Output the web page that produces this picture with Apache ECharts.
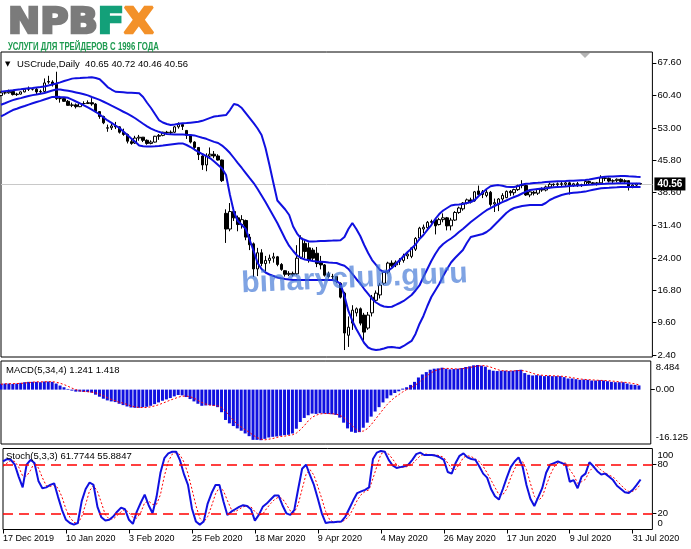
<!DOCTYPE html>
<html>
<head>
<meta charset="UTF-8">
<title>USCrude Daily</title>
<script src="https://cdn.jsdelivr.net/npm/echarts@6/dist/echarts.min.js"></script>
<style>
    html, body { margin: 0; padding: 0; background: #fff; }
    #chart { width: 691px; height: 549px; }
</style>
</head>
<body>
<div id="chart"></div>
<script type="text/javascript">
    // bars: 17 Dec 2019 .. 4 Aug 2020, daily
    var firstDay = '2019-12-17';
    var holidays = ['2019-12-25', '2020-01-01', '2020-04-10'];
    var monthNames = ['Jan','Feb','Mar','Apr','May','Jun','Jul','Aug','Sep','Oct','Nov','Dec'];
    var labelStep = 16;        // a date label every 16 bars
    var lastLabelIndex = 160;  // 31 Jul 2020
    var emptySlots = 3;        // free space right of the last bar

    var opens = [60.3,60.9,60.9,61.2,60.5,60.6,61.1,61.7,61.7,61.7,
        61.1,61.2,63.4,63.3,62.8,59.6,59.6,59.0,58.1,58.2,
        57.8,58.5,58.5,58.7,58.4,56.7,55.6,53.0,53.1,53.5,
        53.3,52.1,51.6,50.0,49.7,50.8,51.0,50.3,49.6,49.9,
        51.2,51.4,52.1,52.0,52.1,53.3,53.8,52.5,51.4,49.9,
        48.7,46.8,44.8,46.8,47.2,46.8,45.9,34.0,30.5,34.4,
        33.0,31.5,32.4,28.7,27.2,21.6,25.2,22.8,23.5,24.0,
        24.3,22.6,21.2,20.4,20.6,20.5,24.2,27.3,26.3,25.8,
        25.1,23.0,22.5,20.5,19.9,19.9,18.4,16.2,6.8,9.5,
        11.8,12.7,11.3,8.4,11.8,14.6,15.8,18.4,20.9,22.9,
        22.5,23.3,23.5,24.5,24.4,26.0,28.5,30.5,30.8,32.0,
        32.6,31.5,32.6,33.0,31.2,32.5,34.2,35.0,36.3,37.0,
        36.8,39.0,38.2,38.0,38.7,36.1,36.0,37.2,37.5,38.9,
        38.6,39.3,40.2,40.2,38.1,38.7,38.5,39.4,39.2,39.9,
        40.5,40.4,40.6,40.5,40.8,40.3,40.6,40.2,40.4,41.1,
        40.8,40.6,40.8,41.9,41.8,41.2,41.3,41.6,41.1,41.3,
        39.9,40.3,40.65];
    var highs = [61.2,61.2,61.6,61.4,60.9,61.2,61.9,62.3,62.0,62.0,
        61.6,64.1,64.7,63.7,65.6,60.2,59.9,59.3,58.7,58.5,
        58.7,59.0,59.2,59.7,58.6,56.8,55.8,53.8,54.0,54.4,
        53.4,52.9,51.8,50.8,51.3,51.5,51.0,50.5,50.3,51.3,
        51.7,52.2,52.4,52.5,53.5,54.3,53.9,52.6,51.7,50.1,
        48.8,47.0,47.4,48.7,47.9,47.2,46.0,34.9,36.3,35.3,
        33.5,33.6,32.6,29.4,27.5,26.3,26.0,24.5,24.8,25.2,
        24.5,22.9,21.3,21.1,21.0,26.9,29.1,28.0,27.5,26.3,
        26.5,24.5,22.7,21.0,20.5,20.0,18.6,16.5,11.0,13.5,
        13.0,13.0,11.8,12.0,15.8,16.8,18.5,21.2,23.2,23.5,
        23.5,24.0,25.0,25.5,26.5,28.7,31.0,31.5,32.3,32.6,
        33.0,33.0,34.0,33.2,33.0,34.5,35.5,36.5,37.3,37.5,
        39.0,40.2,39.2,39.3,39.0,37.3,37.4,38.5,39.1,39.2,
        39.5,40.4,41.4,40.4,39.2,39.0,39.6,39.8,40.2,40.9,
        40.7,40.9,41.0,41.0,41.1,40.8,41.0,40.6,41.3,41.3,
        41.0,41.0,42.5,42.1,42.0,41.6,41.8,41.8,41.6,41.4,
        40.6,40.8,40.72];
    var lows = [60.1,60.5,60.7,60.3,60.2,60.5,61.0,61.3,61.4,60.6,
        60.6,61.0,62.9,62.3,59.3,58.7,58.9,58.0,57.7,57.4,
        57.7,58.2,58.4,58.0,56.5,55.1,53.9,52.2,52.6,52.8,
        51.8,51.3,49.6,49.3,49.5,50.2,49.9,49.3,49.4,49.8,
        50.4,51.2,51.7,51.5,51.9,52.9,52.6,50.6,49.6,48.3,
        45.9,43.7,43.4,46.2,46.3,45.8,41.0,27.4,30.0,32.3,
        30.0,30.6,28.0,25.8,19.8,20.0,22.2,21.0,22.8,23.0,
        22.2,21.2,19.9,20.0,19.9,20.2,23.8,24.0,23.0,23.5,
        22.0,21.5,19.9,19.5,19.2,18.4,15.0,3.5,4.2,8.0,
        11.0,9.0,5.7,8.0,11.0,14.0,15.0,18.0,20.5,22.0,
        22.0,22.5,23.0,23.8,24.0,25.6,28.0,29.6,30.5,31.4,
        29.3,31.3,32.0,30.2,30.2,32.3,33.9,34.6,36.0,36.2,
        36.6,38.0,37.4,37.6,35.5,34.3,34.5,36.8,37.4,37.9,
        38.0,39.0,39.6,37.9,37.6,38.0,38.1,38.8,38.9,39.6,
        40.0,39.9,40.0,40.1,38.2,39.9,39.9,39.9,40.2,40.4,
        40.3,40.2,40.6,41.2,40.9,40.6,40.9,40.8,40.8,39.1,
        39.6,39.9,40.46];
    var closes = [60.9,60.9,61.2,60.5,60.6,61.1,61.7,61.7,61.7,61.1,
        61.2,63.1,63.3,62.7,59.6,59.6,59.0,58.1,58.2,57.8,
        58.5,58.5,58.7,58.4,56.7,55.6,54.2,53.1,53.5,53.3,
        52.1,51.6,50.1,49.6,50.8,51.0,50.3,49.6,49.9,51.2,
        51.4,52.1,52.0,52.1,53.3,53.8,53.4,51.4,49.9,48.7,
        47.1,44.8,46.8,47.2,46.8,45.9,41.3,30.5,34.4,33.0,
        31.5,32.6,28.7,27.0,21.6,25.2,22.8,23.5,24.0,24.3,
        22.6,21.5,20.4,20.6,20.3,24.0,28.5,25.5,23.6,24.0,
        22.8,22.5,20.2,19.9,19.9,18.8,15.3,7.3,8.6,12.4,
        12.7,9.5,7.5,11.3,15.3,16.2,18.0,20.9,22.9,22.3,
        23.1,23.5,24.5,24.9,26.3,28.4,30.7,30.9,32.0,32.2,
        31.2,32.6,33.0,31.2,32.5,34.2,35.2,36.3,37.0,36.6,
        38.8,38.2,38.8,38.7,36.0,36.4,37.2,38.0,38.9,38.6,
        39.3,40.2,40.3,38.1,38.8,38.5,39.4,39.2,39.9,40.5,
        40.4,40.6,40.5,40.8,40.3,40.6,40.2,40.4,41.1,40.8,
        40.6,40.8,41.9,41.8,41.2,41.3,41.6,41.1,41.3,39.9,
        40.3,40.6,40.56];

    // Bollinger Bands (20, 2) as drawn
    var bbUpper = [61.16,61.27,61.38,61.47,61.58,61.67,61.78,61.89,61.98,62.09,
        62.18,62.32,62.52,62.74,62.97,63.23,63.52,63.79,64.06,64.17,
        64.21,64.26,64.30,64.35,64.19,63.92,63.08,62.18,61.63,61.13,
        61.07,61.00,60.93,60.89,60.84,60.78,59.95,58.68,57.50,56.16,
        54.82,54.27,53.93,53.71,53.82,53.97,54.09,54.15,54.24,54.33,
        54.42,54.64,54.98,55.31,55.60,55.71,55.83,55.94,57.05,58.39,
        58.17,57.50,56.38,55.27,54.15,52.93,51.48,48.58,44.79,40.77,
        36.86,35.86,34.86,33.63,31.07,29.50,28.39,28.06,27.72,27.72,
        27.76,27.81,27.83,27.88,27.92,27.97,28.01,28.72,30.51,31.85,
        30.51,28.95,26.94,25.16,23.59,22.48,21.36,20.92,21.14,21.81,
        22.70,23.59,24.49,25.38,26.16,27.05,28.28,29.17,30.29,31.40,
        32.74,33.85,34.63,35.19,35.75,35.91,35.99,36.08,36.31,36.53,
        36.98,37.87,38.65,39.43,40.06,40.21,40.30,40.17,39.94,39.88,
        39.88,40.10,40.46,40.61,40.66,40.75,40.81,40.88,40.97,41.04,
        41.10,41.15,41.19,41.22,41.26,41.30,41.35,41.39,41.42,41.53,
        41.71,41.88,42.04,42.15,42.20,42.24,42.29,42.33,42.31,42.26,
        42.22,42.17,42.13];
    var bbMiddle = [58.23,58.57,58.93,59.26,59.53,59.71,59.95,60.18,60.38,60.53,
        60.69,60.87,61.14,61.40,61.63,61.63,61.49,61.34,61.18,60.98,
        60.78,60.58,60.33,59.97,59.64,59.31,58.90,58.48,58.03,57.59,
        57.14,56.67,56.23,55.76,55.22,54.60,53.99,53.42,52.90,52.52,
        52.19,51.90,51.70,51.66,51.61,51.59,51.57,51.52,51.48,51.39,
        51.12,50.85,50.63,50.29,49.94,49.69,49.13,48.35,47.46,46.35,
        45.23,44.12,43.00,41.88,40.77,39.43,37.98,36.53,34.97,33.41,
        31.85,30.06,28.28,26.72,25.60,24.60,24.04,23.71,23.53,23.37,
        23.26,23.21,23.15,23.04,22.97,22.92,22.59,22.30,21.59,20.47,
        19.36,18.35,17.12,16.01,14.89,14.11,13.56,13.22,13.11,13.16,
        13.56,14.00,14.45,15.12,15.79,16.79,17.91,19.80,21.59,23.37,
        24.93,26.27,27.16,27.83,28.39,29.06,29.84,30.51,31.29,32.07,
        32.74,33.41,34.08,34.70,35.19,35.64,36.09,36.49,36.87,37.27,
        37.65,37.98,38.43,38.87,39.21,39.32,39.43,39.54,39.61,39.70,
        39.81,39.88,39.94,40.01,40.08,40.15,40.21,40.28,40.32,40.37,
        40.43,40.50,40.55,40.59,40.64,40.68,40.70,40.73,40.73,40.70,
        40.68,40.66,40.64];
    var bbLower = [55.65,56.10,56.56,57.05,57.34,57.66,57.95,58.26,58.55,58.84,
        59.10,59.40,59.69,59.98,60.00,59.95,59.91,59.77,59.37,58.95,
        58.55,58.10,57.63,57.16,56.61,56.05,55.40,54.73,54.20,53.60,
        53.04,52.26,51.48,50.70,49.96,49.13,48.98,48.93,48.91,48.96,
        49.02,49.13,49.25,49.36,49.47,49.56,49.60,49.25,48.80,48.24,
        47.73,47.24,46.79,46.28,45.57,44.79,44.00,42.55,38.09,34.30,
        32.29,31.40,30.51,28.06,25.60,22.93,21.59,20.80,20.36,20.03,
        19.69,19.51,19.36,19.24,19.13,19.13,19.13,19.13,19.13,19.13,
        19.13,19.13,19.13,19.13,19.13,18.91,18.24,15.56,12.22,9.99,
        8.20,6.64,5.08,4.07,3.67,3.52,3.63,3.85,4.12,4.19,
        4.07,3.96,4.41,4.97,5.53,7.09,9.32,11.10,13.33,15.34,
        16.79,18.24,20.03,21.59,23.04,24.04,24.93,25.82,27.39,28.72,
        28.95,29.17,29.39,29.84,30.51,31.40,32.29,33.19,34.08,34.75,
        35.19,35.42,35.64,35.75,35.86,35.86,35.86,35.86,36.31,36.98,
        37.42,37.76,38.09,38.32,38.49,38.58,38.67,38.74,38.85,39.07,
        39.27,39.45,39.59,39.66,39.72,39.79,39.83,39.88,39.88,39.88,
        39.88,39.88,39.88];

    // MACD(5,34,4)
    var macdMain = [1.7,1.8,1.8,1.7,1.8,2.0,2.2,2.3,2.3,2.3,
        2.2,2.4,2.4,2.3,1.8,1.2,0.7,0.2,-0.3,-0.6,
        -0.6,-0.7,-0.7,-0.9,-1.5,-2.1,-2.7,-3.2,-3.5,-3.7,
        -4.2,-4.6,-5.0,-5.3,-5.4,-5.4,-5.2,-5.1,-4.8,-4.3,
        -3.8,-3.3,-2.9,-2.5,-2.0,-1.6,-1.7,-2.2,-2.8,-3.5,
        -4.2,-4.8,-4.7,-4.6,-4.8,-5.2,-6.7,-9.0,-10.0,-10.8,
        -11.5,-12.2,-13.0,-13.8,-14.9,-14.9,-15.0,-14.6,-14.2,-14.0,
        -13.9,-13.7,-13.5,-13.4,-13.0,-11.6,-9.6,-8.4,-7.6,-7.1,
        -7.2,-7.0,-7.1,-7.2,-7.3,-7.5,-8.3,-9.8,-11.5,-12.5,
        -12.8,-12.6,-11.3,-9.8,-8.0,-6.5,-5.2,-3.8,-2.6,-1.7,
        -1.0,-0.5,0.3,0.7,1.4,2.3,3.6,4.5,5.2,5.9,
        6.2,6.3,6.5,6.2,6.0,6.1,6.2,6.4,6.7,6.9,
        7.2,7.3,7.1,6.8,5.9,5.6,5.5,5.6,5.6,5.5,
        5.6,5.8,5.9,4.9,4.4,4.2,4.3,4.2,4.0,4.1,
        4.0,4.0,4.0,3.7,3.3,3.3,3.1,2.9,3.0,2.9,
        2.7,2.7,2.8,2.7,2.5,2.3,2.2,2.2,2.2,1.8,
        1.5,1.4,1.241];
    var macdSignal = [1.6,1.7,1.75,1.75,1.8,1.85,1.95,2.1,2.2,2.3,
        2.3,2.3,2.35,2.35,2.2,1.9,1.5,1.0,0.45,0.0,
        -0.35,-0.55,-0.65,-0.75,-0.95,-1.3,-1.8,-2.4,-2.9,-3.3,
        -3.75,-4.0,-4.4,-4.8,-5.1,-5.3,-5.3,-5.3,-5.1,-4.85,
        -4.5,-4.05,-3.6,-3.1,-2.7,-2.25,-1.95,-1.9,-2.1,-2.5,
        -3.2,-3.8,-4.3,-4.6,-4.7,-4.8,-5.3,-6.4,-7.7,-9.1,
        -10.3,-11.1,-11.9,-12.6,-13.5,-14.2,-14.7,-14.9,-14.7,-14.5,
        -14.2,-13.9,-13.8,-13.6,-13.4,-12.9,-11.9,-10.7,-9.3,-8.2,
        -7.6,-7.2,-7.1,-7.1,-7.15,-7.25,-7.6,-8.2,-9.3,-10.5,
        -11.7,-12.4,-12.3,-11.6,-10.4,-8.9,-7.4,-5.9,-4.5,-3.3,
        -2.3,-1.5,-0.7,0.0,0.5,1.2,2.0,3.0,3.95,4.8,
        5.5,5.95,6.2,6.3,6.25,6.2,6.1,6.2,6.35,6.55,
        6.8,7.0,7.1,7.1,6.8,6.4,5.95,5.65,5.55,5.55,
        5.55,5.6,5.7,5.55,5.25,4.85,4.45,4.3,4.2,4.15,
        4.1,4.05,4.0,3.9,3.75,3.55,3.35,3.15,3.05,2.95,
        2.9,2.8,2.75,2.7,2.65,2.55,2.45,2.3,2.2,2.1,
        1.9,1.7,1.418];

    // Stochastic (5,3,3)
    var stochK = [84,87,86,80,65,52,80,86,82,60,
        51,52,55,57,40,24,12,8,6,8,
        35,50,58,55,28,15,11,12,16,22,
        27,25,12,7,22,33,43,30,20,40,
        70,88,94,96,96,85,68,55,26,10,
        6,10,32,45,55,55,35,18,22,25,
        28,30,29,25,11,18,28,32,37,42,
        42,30,20,18,24,50,75,80,67,55,
        38,20,8,9,9,9.5,10,16,26,36,
        45,47,49,52,87,95,97,96,86,79,
        76,77,78,80,86,93,95,92,92,92,
        91,89,86,71,69,82,91,94,89,87,
        86,78,69,64,50,41,37,50,64,77,
        84,89,78,55,38,29,40,51,70,80,
        82,84,82,80,59,61,51,65,69,83,
        78,72,68,69,65,61,54,50,46,45,
        49,55,61.7744];
    var stochD = [78,82,85,84,77,66,66,73,83,76,
        64,54,53,55,51,40,25,15,9,7,
        16,31,48,54,47,33,18,13,13,17,
        22,25,21,15,14,21,33,35,31,31,
        43,66,84,93,95,92,83,69,50,30,
        14,9,16,29,44,52,48,36,25,22,
        25,28,29,28,22,18,19,26,32,37,
        40,38,31,23,21,31,50,68,74,67,
        53,38,22,12,9,9,9.5,12,17,26,
        36,43,47,49,63,78,93,96,93,87,
        80,77,77,78,81,86,91,93,93,92,
        92,91,89,82,75,74,81,89,91,90,
        87,84,78,70,61,52,43,43,50,64,
        75,83,84,74,57,41,36,40,54,67,
        77,82,83,82,74,67,57,59,62,72,
        77,78,73,70,67,65,60,55,50,47,
        47,50,55.8847];
    var stochLevels = [80, 20];

    // axis labels
    var priceTicks = [67.60, 60.40, 53.00, 45.80, 38.60, 31.40, 24.00, 16.80, 9.60, 2.40];
    var macdTicks = [8.484, 0, -16.125];
    var stochEdgeTicks = [100, 0];
    var lastPrice = 40.56;
    var symbolTitle = 'USCrude,Daily';
    var lastBar = [40.65, 40.72, 40.46, 40.56];

    var dates = [];
    var d = new Date(firstDay + 'T00:00:00Z');
    while (dates.length < closes.length) {
        var wd = d.getUTCDay();
        var iso = d.toISOString().slice(0, 10);
        if (wd !== 0 && wd !== 6 && holidays.indexOf(iso) < 0) {
            dates.push(d.getUTCDate() + ' ' + monthNames[d.getUTCMonth()] + ' ' + d.getUTCFullYear());
        }
        d.setUTCDate(d.getUTCDate() + 1);
    }
    var categories = dates.slice();
    for (var e = 0; e < emptySlots; e++) categories.push('');

    var candles = opens.map(function (o, i) {
        return [o, closes[i], lows[i], highs[i]];
    });

    var font = '"Liberation Sans", Arial, sans-serif';
    var blue = '#1010e0';
    var logoFont = 'bold 35px "DejaVu Sans"';
    var labelSize = 9.5;

    function showLabel(idx) {
        return idx % labelStep === 0 && idx <= lastLabelIndex;
    }

    function xAxisFor(g) {
        var bottom = g === 2;
        return {
            gridIndex: g, type: 'category', data: categories, boundaryGap: false,
            axisLine: {show: false},
            axisTick: {show: bottom, interval: showLabel, length: 4, lineStyle: {color: '#000'}},
            axisLabel: {show: bottom, interval: showLabel, align: 'left', margin: 5,
                color: '#000', fontSize: 9, fontFamily: font},
            splitLine: {show: false}
        };
    }

    function bandLine(data) {
        return {type: 'line', xAxisIndex: 0, yAxisIndex: 0, data: data, symbol: 'none',
            lineStyle: {color: blue, width: 2}, z: 3, silent: true};
    }

    function sideAxis(grid, min, max, ticks, labels, fmt) {
        return {
            gridIndex: grid, type: 'value', position: 'right', min: min, max: max,
            splitLine: {show: false}, axisLine: {show: false},
            axisTick: {show: true, length: 4, customValues: ticks, lineStyle: {color: '#000'}},
            axisLabel: {customValues: labels, margin: 5, color: '#000', fontSize: labelSize, lineHeight: 13,
                fontFamily: font, showMinLabel: true, showMaxLabel: true, formatter: fmt}
        };
    }

    var myChart = echarts.init(document.getElementById('chart'));

    var option = {
        animation: false,
        backgroundColor: '#fff',
        textStyle: {fontFamily: font},
        grid: [
            {left: 1, top: 52, width: 651.4, height: 305, show: true, borderColor: '#000', borderWidth: 1},
            {left: 1, top: 361, width: 651.4, height: 83, show: true, borderColor: '#000', borderWidth: 1},
            {left: 1, top: 448.5, width: 651.4, height: 81, show: true, borderColor: '#000', borderWidth: 1}
        ],
        xAxis: [xAxisFor(0), xAxisFor(1), xAxisFor(2)],
        yAxis: [
            sideAxis(0, 1.95, 70.0, priceTicks, priceTicks, function (v) { return v.toFixed(2); }),
            sideAxis(1, -16.125, 8.484, [0], macdTicks, function (v) {
                if (v > 0) return '\n' + v.toFixed(3);
                if (v < 0) return v.toFixed(3) + '\n';
                return '0.00';
            }),
            sideAxis(2, 0, 100, stochLevels, stochLevels, function (v) { return String(v); }),
            sideAxis(2, 0, 100, [], stochEdgeTicks, function (v) {
                return v === 100 ? '\n100' : '0\n';
            })
        ],
        series: [
            {
                type: 'candlestick', xAxisIndex: 0, yAxisIndex: 0, data: candles, barWidth: 3,
                itemStyle: {color: '#fff', color0: '#000', borderColor: '#000', borderColor0: '#000', borderWidth: 1},
                markLine: {
                    silent: true, symbol: 'none', z: 1,
                    data: [{yAxis: lastPrice}],
                    lineStyle: {color: '#c8c8c8', type: 'solid', width: 1},
                    label: {position: 'end', distance: 2, formatter: lastPrice.toFixed(2),
                        backgroundColor: '#000', color: '#fff', fontSize: 10, fontWeight: 'bold',
                        padding: [2, 3, 1, 3], fontFamily: font}
                }
            },
            bandLine(bbUpper),
            bandLine(bbMiddle),
            bandLine(bbLower),
            {
                type: 'bar', xAxisIndex: 1, yAxisIndex: 1, data: macdMain, barWidth: 3,
                itemStyle: {color: blue}
            },
            {
                type: 'line', xAxisIndex: 1, yAxisIndex: 1, data: macdSignal, symbol: 'none',
                lineStyle: {color: '#ff0000', width: 1, type: [2, 2]}, z: 3
            },
            {
                type: 'line', xAxisIndex: 2, yAxisIndex: 2, data: stochK, symbol: 'none',
                lineStyle: {color: blue, width: 2}, z: 3,
                markLine: {
                    silent: true, symbol: 'none',
                    data: stochLevels.map(function (l) { return {yAxis: l}; }),
                    lineStyle: {color: '#ff0000', type: [10, 6], width: 1.5},
                    label: {show: false}
                }
            },
            {
                type: 'line', xAxisIndex: 2, yAxisIndex: 2, data: stochD, symbol: 'none',
                lineStyle: {color: '#ff0000', width: 1, type: [2, 2]}, z: 2
            }
        ],
        graphic: [
            {
                type: 'text', x: 8, y: 6, scaleX: 1.1, z: 50,
                style: {
                    text: '{g|NPB}{f|F}{o|X}', verticalAlign: 'top', align: 'left',
                    font: logoFont,
                    rich: {
                        g: {fill: '#7b7b7b', stroke: '#7b7b7b', lineWidth: 2.5, font: logoFont},
                        f: {fill: '#13a079', stroke: '#13a079', lineWidth: 2.5, font: logoFont},
                        o: {fill: '#f39129', stroke: '#f39129', lineWidth: 2.5, font: logoFont}
                    }
                }
            },
            {
                type: 'text', x: 8, y: 42, scaleX: 0.78, z: 50,
                style: {text: 'УСЛУГИ ДЛЯ ТРЕЙДЕРОВ С 1996 ГОДА', verticalAlign: 'top',
                    font: 'bold 10px "Liberation Sans"', fill: '#1d9a4f'}
            },
            {
                type: 'text', x: 5, y: 64, z: 50,
                style: {text: '▼', verticalAlign: 'middle', font: '7px "DejaVu Sans"', fill: '#000'}
            },
            {
                type: 'text', x: 17, y: 64, z: 50,
                style: {text: symbolTitle + '  ' + lastBar.map(function (v) { return v.toFixed(2); }).join(' '),
                    verticalAlign: 'middle', font: '9.5px "Liberation Sans"', fill: '#000'}
            },
            {
                type: 'text', x: 6, y: 370, z: 50,
                style: {text: 'MACD(5,34,4) ' + macdMain[macdMain.length - 1].toFixed(3) + ' ' +
                        macdSignal[macdSignal.length - 1].toFixed(3),
                    verticalAlign: 'middle', font: '9.5px "Liberation Sans"', fill: '#000'}
            },
            {
                type: 'text', x: 6, y: 456, z: 50,
                style: {text: 'Stoch(5,3,3) ' + stochK[stochK.length - 1].toFixed(4) + ' ' +
                        stochD[stochD.length - 1].toFixed(4),
                    verticalAlign: 'middle', font: '9.5px "Liberation Sans"', fill: '#000'}
            },
            {
                type: 'polygon', z: 50,
                shape: {points: [[580, 53], [590, 53], [585, 58]]},
                style: {fill: '#b4b4b4'}
            },
            {
                type: 'text', x: 242, y: 299, rotation: 0.045, z: 60,
                style: {text: 'binaryclub.guru', verticalAlign: 'bottom',
                    font: 'bold 30px "Liberation Sans"', fill: 'rgba(66,120,214,0.68)'}
            }
        ]
    };
    myChart.setOption(option);
</script>
</body>
</html>
